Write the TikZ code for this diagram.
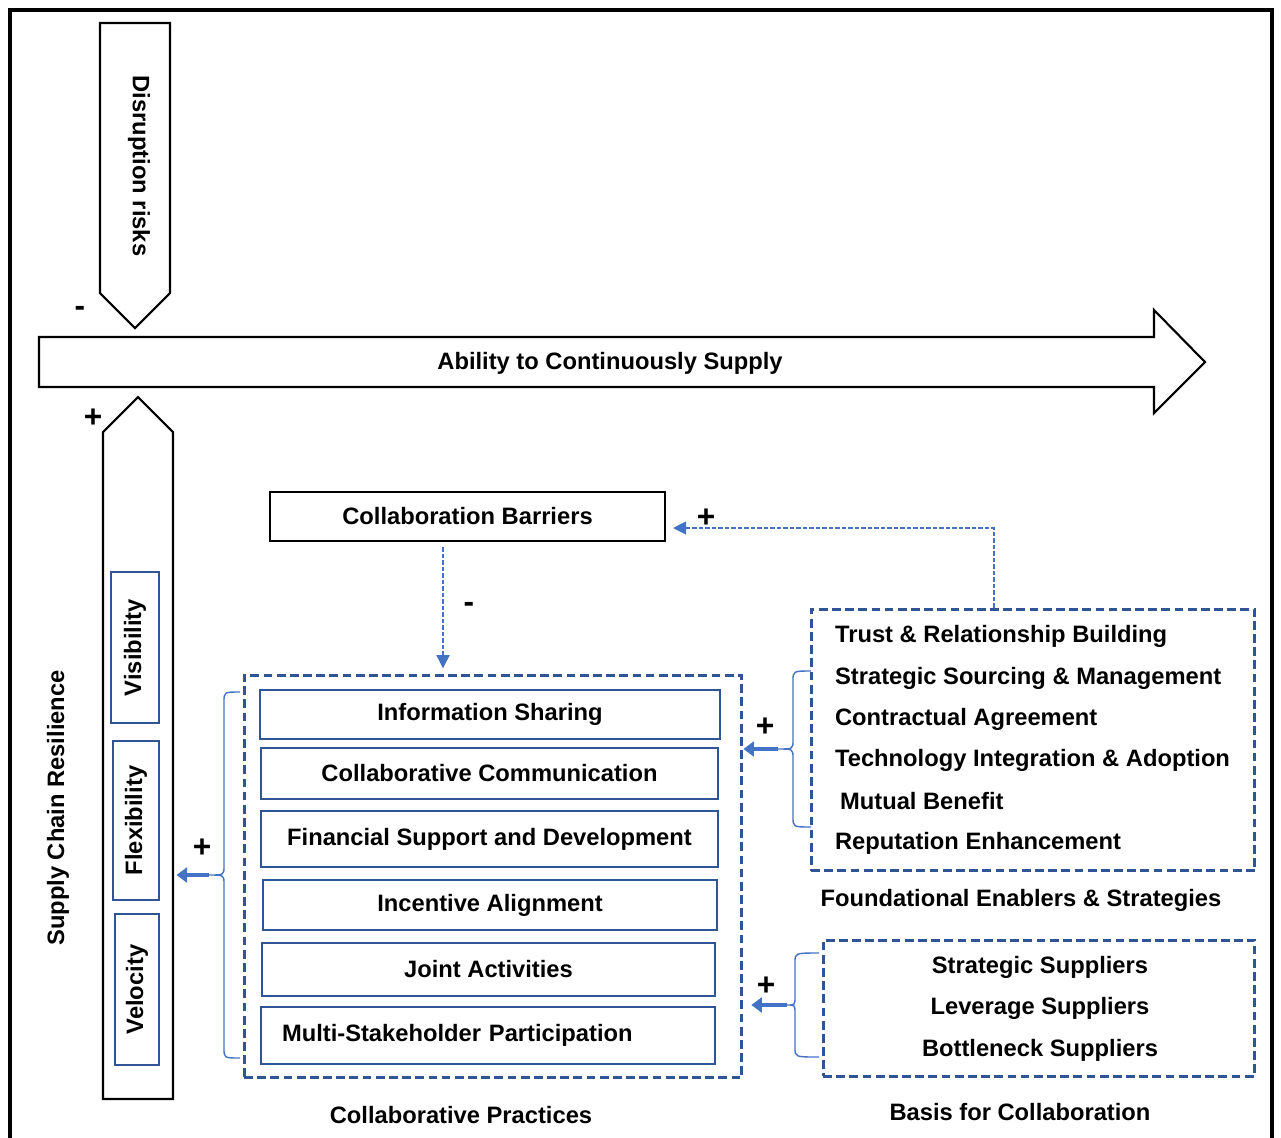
\documentclass[tikz,border=0pt]{standalone}
\usepackage{fontspec}
\setmainfont{Liberation Sans}
\usetikzlibrary{arrows.meta,calc}
\definecolor{boxblue}{HTML}{2F5597}
\definecolor{arrowblue}{HTML}{4472C4}
\tikzset{
  lbl/.style={font=\bfseries\fontsize{13.5}{16}\selectfont, inner sep=1pt},
  sgn/.style={font=\bfseries\fontsize{18}{20}\selectfont, inner sep=0pt},
  blk/.style={draw=black, line width=1.2pt},
  pbox/.style={lbl, draw=boxblue, line width=1.4pt, inner sep=0pt},
  rbox/.style={lbl, draw=boxblue, line width=1.3pt, rotate=90},
  dbox/.style={draw=boxblue, line width=1.7pt, dash pattern=on 5pt off 2.5pt},
  dconn/.style={draw=arrowblue, line width=0.7pt, dash pattern=on 2.5pt off 1.2pt,
    -{Triangle[length=7.5pt,width=7.5pt]}},
  fat/.style={draw=arrowblue, line width=2.2pt, -{Triangle[length=6pt,width=8.5pt]}},
  brc/.style={draw=arrowblue, line width=0.8pt},
}
\begin{document}
\begin{tikzpicture}[x=0.02cm,y=-0.02cm]
\useasboundingbox (0,0) rectangle (1281,1137);
% outer frame
\draw[line width=2.8pt] (10,1145) -- (10,10) -- (1272,10) -- (1272,1145);

% Disruption risks
\draw[blk] (100,23) -- (170,23) -- (170,293) -- (135,328) -- (100,293) -- cycle;
\node[lbl,rotate=-90] (dr) at (139,166) {Disruption risks};
\node[sgn] (drsign) at (80,311) {-};

% Ability to continuously supply
\draw[blk] (39,337) -- (1154,337) -- (1154,310) -- (1205,362) -- (1154,413) -- (1154,387) -- (39,387) -- cycle;
\node[lbl] (acs) at (610,363) {Ability to Continuously Supply};

% Supply chain resilience
\draw[blk] (103,1099) -- (103,432) -- (138,397) -- (173,432) -- (173,1099) -- cycle;
\coordinate (sre) at (173,0);
\node[sgn] (scrsign) at (93,418) {+};
\node[lbl,rotate=90] (scr) at (58,808) {Supply Chain Resilience};
\node[rbox, minimum width=3.02cm, minimum height=0.96cm] (vis) at (135,647.5) {Visibility};
\node[rbox, minimum width=3.18cm, minimum height=0.92cm] (flex) at (136,820.5) {Flexibility};
\node[rbox, minimum width=3.02cm, minimum height=0.88cm] (velo) at (137,989.5) {Velocity};

% Collaboration barriers
\node[lbl, blk, minimum width=7.9cm, minimum height=0.98cm] (cb) at (467.5,516.5) {Collaboration Barriers};

% Collaborative practices
\node[dbox, minimum width=9.96cm, minimum height=8.06cm] (cp) at (493,876.5) {};
\node[pbox, minimum width=9.2cm, minimum height=0.98cm] (info) at (490,714.5) {Information Sharing};
\node[pbox, minimum width=9.14cm, minimum height=1.02cm] (comm) at (489.5,773.5) {Collaborative Communication};
\node[pbox, minimum width=9.14cm, minimum height=1.12cm] (fin) at (489.5,839) {Financial Support and Development};
\node[pbox, minimum width=9.08cm, minimum height=1.0cm] (inc) at (490,905) {Incentive Alignment};
\node[pbox, minimum width=9.06cm, minimum height=1.06cm] (joint) at (488.5,969.5) {Joint Activities};
\node[pbox, minimum width=9.08cm, minimum height=1.14cm, text width=8.24cm, align=left, inner xsep=0.42cm] (multi) at (488,1035.5) {Multi-Stakeholder Participation};
\node[lbl] (cpname) at (461,1115) {Collaborative Practices};

% Foundational enablers
\node[dbox, minimum width=8.88cm, minimum height=5.24cm] (fe) at (1033,740) {};
\node[lbl, anchor=west] (fe1) at (833,636) {Trust \& Relationship Building};
\node[lbl, anchor=west] (fe2) at (833,678) {Strategic Sourcing \& Management};
\node[lbl, anchor=west] (fe3) at (833,719) {Contractual Agreement};
\node[lbl, anchor=west] (fe4) at (833,760) {Technology Integration \& Adoption};
\node[lbl, anchor=west] (fe5) at (838,801) {Mutual Benefit};
\node[lbl, anchor=west] (fe6) at (833,843) {Reputation Enhancement};
\node[lbl] (fename) at (1021,900) {Foundational Enablers \& Strategies};

% Basis for collaboration
\node[dbox, minimum width=8.64cm, minimum height=2.72cm] (bc) at (1039,1008) {};
\node[lbl] (bc1) at (1040,967) {Strategic Suppliers};
\node[lbl] (bc2) at (1040,1008) {Leverage Suppliers};
\node[lbl] (bc3) at (1040,1050) {Bottleneck Suppliers};
\node[lbl] (bcname) at (1020,1112) {Basis for Collaboration};

% dashed links
\coordinate (cbx) at (443,0);
\draw[dconn, shorten <=3pt, shorten >=3pt] (cbx |- cb.south) -- (cbx |- cp.north);
\node[sgn] (cbsign) at (469,607) {-};
\coordinate (fbk) at (994,528);
\draw[dconn, shorten >=4pt] (fbk |- fe.north) -- (fbk) -- (fbk -| cb.east);
\node[sgn] (fesign) at (706,518) {+};

% braces and arrows
\draw[brc] (240,692) .. controls (224,692) .. (224,702) -- (224,866) .. controls (224,875) .. (209,875)
  .. controls (224,875) .. (224,884) -- (224,1048) .. controls (224,1058) .. (240,1058);
\coordinate (cpt) at (209,875);
\draw[fat, shorten >=2pt] (cpt) -- (cpt -| sre);
\node[sgn] (cpsign) at (202,848) {+};

\draw[brc] (811,671) .. controls (793,671) .. (793,681) -- (793,740) .. controls (793,749) .. (778,749)
  .. controls (793,749) .. (793,758) -- (793,817) .. controls (793,827) .. (811,827);
\coordinate (fet) at (778,749);
\draw[fat] (fet) -- (fet -| cp.east);
\node[sgn] (fearr) at (765,727) {+};

\draw[brc] (819,953) .. controls (795,953) .. (795,962) -- (795,997) .. controls (795,1005) .. (787,1005)
  .. controls (795,1005) .. (795,1013) -- (795,1048) .. controls (795,1057) .. (819,1057);
\coordinate (bct) at (787,1005);
\draw[fat, shorten >=4.5pt] (bct) -- (bct -| cp.east);
\node[sgn] (bcsign) at (766,986) {+};
\end{tikzpicture}
\end{document}
